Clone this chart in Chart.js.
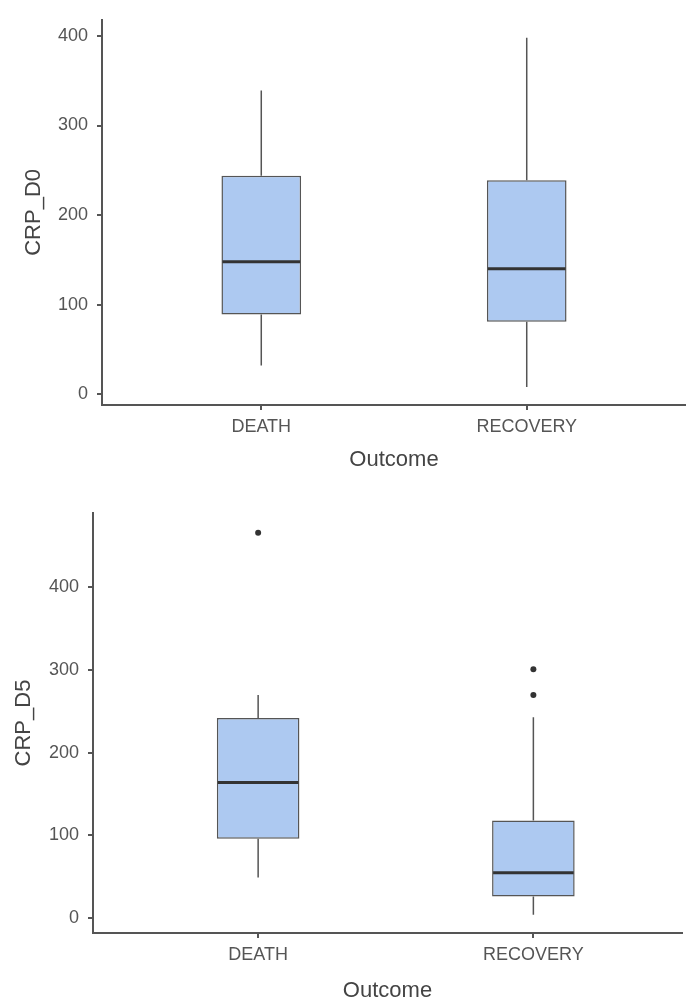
<!DOCTYPE html>
<html>
<head>
<meta charset="utf-8">
<script src="https://cdn.jsdelivr.net/npm/chart.js@4"></script>
<style>
    html, body { margin: 0; padding: 0; background: #fff; overflow: hidden; }
    .wrap { position: absolute; left: 0; }
    #top { top: 0; width: 686px; height: 480px; }
    #bottom { top: 490px; width: 686px; height: 530px; }
</style>
</head>
<body>
<div class="wrap" id="top"><canvas id="chartD0"></canvas></div>
<div class="wrap" id="bottom"><canvas id="chartD5"></canvas></div>
<script>
const outcomes = ['DEATH', 'RECOVERY'];
const yTicks = [0, 100, 200, 300, 400];

// CRP_D0 (day 0)
const d0Min = [32, 8];
const d0Q1 = [89, 81];
const d0Median = [148, 140];
const d0Q3 = [244, 239];
const d0Max = [339, 398];
const d0Outliers = [[], []];

// CRP_D5 (day 5)
const d5Min = [49, 4];
const d5Q1 = [96, 26];
const d5Median = [164, 55];
const d5Q3 = [242, 118];
const d5Max = [270, 243];
const d5Outliers = [[466], [301, 270]];

const boxFill = '#adc9f1';
const boxLine = '#555';
const axisColor = '#555';
const textColor = '#555';

// whiskers + median lines, drawn through the chart's own scales
const boxExtras = {
    id: 'boxExtras',
    afterDatasetsDraw(chart, args, opts) {
        const { ctx, scales: { x, y } } = chart;
        ctx.save();
        ctx.lineCap = 'butt';
        opts.median.forEach((m, i) => {
            const cx = x.getPixelForValue(i + 1);
            const half = (x.getPixelForValue(i + 1 + opts.width / 2) - cx);
            ctx.strokeStyle = boxLine;
            ctx.lineWidth = 1.5;
            ctx.beginPath();
            ctx.moveTo(cx, y.getPixelForValue(opts.q3[i]));
            ctx.lineTo(cx, y.getPixelForValue(opts.max[i]));
            ctx.moveTo(cx, y.getPixelForValue(opts.q1[i]));
            ctx.lineTo(cx, y.getPixelForValue(opts.min[i]));
            ctx.stroke();
            ctx.strokeStyle = '#333';
            ctx.lineWidth = 3;
            ctx.beginPath();
            ctx.moveTo(cx - half + 1, y.getPixelForValue(m));
            ctx.lineTo(cx + half - 1, y.getPixelForValue(m));
            ctx.stroke();
        });
        ctx.restore();
    }
};

function makeBoxChart(canvasId, s) {
    const boxData = outcomes.map((o, i) => ({ x: i + 1, y: [s.q1[i], s.q3[i]] }));
    const pts = [];
    s.outliers.forEach((arr, i) => arr.forEach(v => pts.push({ x: i + 1, y: v })));

    return new Chart(document.getElementById(canvasId), {
        type: 'bar',
        data: {
            datasets: [{
                data: boxData,
                backgroundColor: boxFill,
                borderColor: boxLine,
                borderWidth: 1.5,
                borderSkipped: false,
                barPercentage: 0.3,
                categoryPercentage: 1,
                grouped: false
            }, {
                type: 'scatter',
                data: pts,
                pointRadius: 3,
                pointBackgroundColor: '#333',
                pointBorderWidth: 0
            }]
        },
        options: {
            responsive: true,
            maintainAspectRatio: false,
            animation: false,
            layout: { padding: { top: s.padTop, right: 0, left: 0, bottom: 0 } },
            plugins: {
                legend: { display: false },
                tooltip: { enabled: false },
                boxExtras: { min: s.min, q1: s.q1, median: s.median, q3: s.q3, max: s.max, width: 0.3 }
            },
            scales: {
                x: {
                    type: 'linear',
                    offset: false,
                    min: 0.4,
                    max: s.xMax,
                    afterBuildTicks: sc => { sc.ticks = outcomes.map((o, i) => ({ value: i + 1 })); },
                    afterFit: sc => { sc.height = s.xHeight; },
                    ticks: {
                        callback: v => outcomes[v - 1],
                        color: textColor,
                        font: { family: 'Liberation Sans', size: 18 },
                        padding: 6,
                        maxRotation: 0
                    },
                    grid: { offset: false, drawOnChartArea: false, tickLength: 5, color: axisColor, lineWidth: 2 },
                    border: { color: axisColor, width: 2 },
                    title: {
                        display: true,
                        text: 'Outcome',
                        color: '#444',
                        font: { family: 'Liberation Sans', size: 22 },
                        padding: { bottom: s.xTitlePad, top: 0 }
                    }
                },
                y: {
                    min: s.yMin,
                    max: s.yMax,
                    afterBuildTicks: sc => { sc.ticks = yTicks.map(v => ({ value: v })); },
                    afterFit: sc => { sc.width = s.yWidth; },
                    ticks: {
                        color: textColor,
                        font: { family: 'Liberation Sans', size: 18 },
                        padding: 9
                    },
                    grid: { drawOnChartArea: false, tickLength: 5, color: axisColor, lineWidth: 2 },
                    border: { color: axisColor, width: 2 },
                    title: {
                        display: true,
                        text: s.label,
                        color: '#444',
                        font: { family: 'Liberation Sans', size: 22 },
                        padding: { top: s.yTitlePad, bottom: 0 }
                    }
                }
            }
        },
        plugins: [boxExtras]
    });
}

makeBoxChart('chartD0', {
    label: 'CRP_D0',
    min: d0Min, q1: d0Q1, median: d0Median, q3: d0Q3, max: d0Max, outliers: d0Outliers,
    yMin: -12, yMax: 418, xMax: 2.6,
    padTop: 15, yWidth: 102, xHeight: 75, xTitlePad: 7, yTitlePad: 21
});

makeBoxChart('chartD5', {
    label: 'CRP_D5',
    min: d5Min, q1: d5Q1, median: d5Median, q3: d5Q3, max: d5Max, outliers: d5Outliers,
    yMin: -18, yMax: 490, xMax: 2.54,
    padTop: 23, yWidth: 93, xHeight: 87, xTitlePad: 16, yTitlePad: 11
});
</script>
</body>
</html>
